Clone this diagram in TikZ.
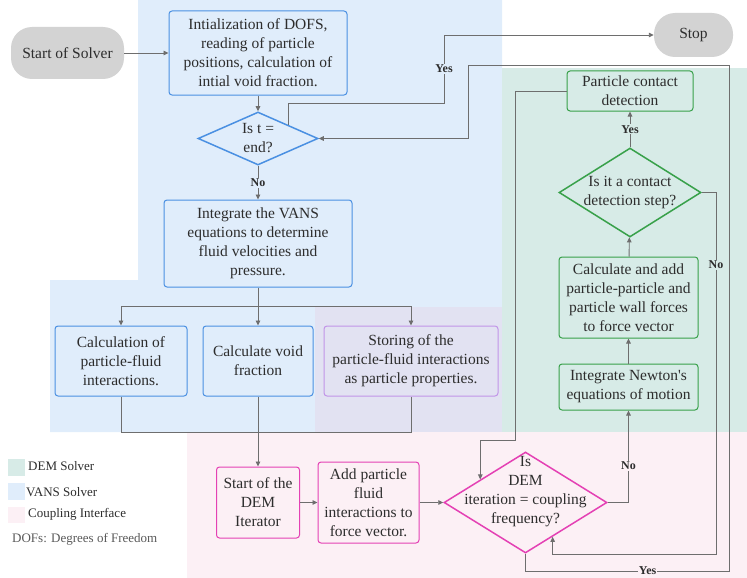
\documentclass[tikz,border=0pt]{standalone}
\usepackage{fontspec}
\setmainfont{Liberation Serif}
\usetikzlibrary{shapes.geometric,arrows.meta,calc}

\definecolor{vansbg}{RGB}{224,237,251}
\definecolor{vansline}{RGB}{74,144,226}
\definecolor{dembg}{RGB}{215,235,231}
\definecolor{demline}{RGB}{56,161,74}
\definecolor{cplbg}{RGB}{252,240,245}
\definecolor{cplline}{RGB}{228,65,180}
\definecolor{storebg}{RGB}{226,226,242}
\definecolor{storeline}{RGB}{193,148,232}
\definecolor{pillg}{RGB}{211,211,211}
\definecolor{lineg}{RGB}{110,110,110}
\definecolor{txt}{RGB}{45,45,45}

\begin{document}
\begin{tikzpicture}[x=1pt,y=-1pt,
    every node/.style={text=txt},
    box/.style={draw=#1, rounded corners=3pt, line width=1pt, align=center, inner sep=0pt,
        font=\fontsize{15.5}{19}\selectfont},
    pill/.style={fill=pillg, rounded corners=21pt, inner sep=0pt, font=\fontsize{15.5}{19}\selectfont},
    decision/.style={diamond, draw=#1, line width=1.5pt, inner sep=0pt},
    dtext/.style={align=center, inner sep=0pt, font=\fontsize{15.5}{19}\selectfont},
    lbl/.style={fill=#1, inner sep=1pt, font=\fontsize{12}{14}\selectfont\bfseries},
    arr/.style={draw=lineg, line width=0.9pt, -{Triangle[length=5pt,width=4.5pt]}},
    ln/.style={draw=lineg, line width=0.9pt},
    legtext/.style={anchor=west, inner sep=0pt, font=\fontsize{13}{15}\selectfont}]
    \useasboundingbox (0,0) rectangle (747,578);

    % Draw the solver regions
    \fill[vansbg] (138,0) -- (502,0) -- (502,432) -- (50,432) -- (50,280) -- (138,280) -- cycle;
    \fill[storebg] (315,307) rectangle (502,432);
    \fill[dembg] (502,68) rectangle (747,432);
    \fill[cplbg] (187,432) rectangle (747,578);

    % Legend
    \fill[dembg] (8,459) rectangle (25,476);
    \fill[vansbg] (8,483) rectangle (25,500);
    \fill[cplbg] (8,507) rectangle (25,523);
    \node[legtext] (legdem) at (28,466) {DEM Solver};
    \node[legtext] (legvans) at (26,492) {VANS Solver};
    \node[legtext] (legcpl) at (28,514) {Coupling Interface};
    \node[legtext, text=black!65] (legdof) at (12,539) {DOFs: Degrees of Freedom};

    % VANS side
    \node[pill, minimum width=113pt, minimum height=52pt] (start) at (67.5,53) {Start of Solver};
    \node[box=vansline, fill=vansbg, minimum width=178pt, minimum height=84pt] (init) at (258,53)
        {Intialization of DOFS,\\ reading of particle\\ positions, calculation of\\ intial void fraction.};
    \node[decision=vansline, fill=vansbg, minimum width=120pt, minimum height=53pt] (tend) at (258,138.5) {};
    \node[dtext] (tend-t) at (tend) {Is t =\\ end?};
    \node[box=vansline, fill=vansbg, minimum width=188pt, minimum height=87pt] (vans) at (258,243.5)
        {Integrate the VANS\\ equations to determine\\ fluid velocities and\\ pressure.};
    \node[box=vansline, fill=vansbg, minimum width=132pt, minimum height=70pt] (pfi) at (121,361)
        {Calculation of\\ particle-fluid\\ interactions.};
    \node[box=vansline, fill=vansbg, minimum width=110pt, minimum height=70pt] (void) at (258,361)
        {Calculate void\\ fraction};
    \node[box=storeline, fill=storebg, minimum width=174pt, minimum height=70pt] (store) at (411,361)
        {Storing of the\\ particle-fluid interactions\\ as particle properties.};
    \node[pill, minimum width=79pt, minimum height=44pt] (stop) at (693.5,35) {Stop};

    % Coupling interface
    \node[box=cplline, fill=cplbg, minimum width=83pt, minimum height=71pt] (demstart) at (258,502.5)
        {Start of the\\ DEM\\ Iterator};
    \node[box=cplline, fill=cplbg, minimum width=101pt, minimum height=81pt] (addf) at (368.5,502.5)
        {Add particle\\ fluid\\ interactions to\\ force vector.};
    \node[decision=cplline, fill=cplbg, minimum width=163pt, minimum height=101pt] (cpl) at (525.5,502.5) {};
    \node[dtext] (cpl-t) at ($(cpl)+(0,-11)$) {Is\\ DEM\\ iteration = coupling\\ frequency?};

    % DEM side
    \node[box=demline, fill=dembg, minimum width=139pt, minimum height=46pt] (newton) at (628.5,387)
        {Integrate Newton\textquotesingle s\\ equations of motion};
    \node[box=demline, fill=dembg, minimum width=139pt, minimum height=81pt] (calcf) at (628.5,297.5)
        {Calculate and add\\ particle-particle and\\ particle wall forces\\ to force vector};
    \node[decision=demline, fill=dembg, minimum width=142pt, minimum height=89pt] (cstep) at (630,192.5) {};
    \node[dtext] (cstep-t) at (cstep) {Is it a contact\\ detection step?};
    \node[box=demline, fill=dembg, minimum width=126pt, minimum height=40pt] (pcd) at (630,91)
        {Particle contact\\ detection};

    % Bend points
    \coordinate (ybend) at (444,103);
    \coordinate (sp) at (258,306);
    \coordinate (mg) at (258,432);
    \coordinate (yret) at (729,571);
    \coordinate (yret2) at (468,65);
    \coordinate (nret) at (716,554);
    \coordinate (pret) at (515,440);
    \coordinate (cplin) at ($(cpl.south)!0.33!(cpl.east)$);
    \coordinate (cplin2) at ($(cpl.west)!0.45!(cpl.north)$);

    % Connectors
    \draw[arr] (start) -- (init);
    \draw[arr] (init) -- (tend);
    \draw[arr] (tend) -- node[lbl=vansbg] (no1) {No} (vans);
    \draw[arr] (tend.north east) |- (ybend) |- node[lbl=vansbg, pos=0.25] (yes1) {Yes} (stop);
    \draw[ln] (vans) -- (sp);
    \draw[arr] (sp) -| (pfi);
    \draw[arr] (sp) -- (void);
    \draw[arr] (sp) -| (store);
    \draw[ln] (pfi) |- (mg);
    \draw[ln] (store) |- (mg);
    \draw[arr] (void) -- (demstart);
    \draw[arr] (demstart) -- (addf);
    \draw[arr] (addf) -- (cpl);
    \draw[arr] (cpl.east) -| node[lbl=cplbg, pos=0.7] (no2) {No} (newton.south);
    \draw[arr] (newton) -- (calcf);
    \draw[arr] (calcf) -- (cstep);
    \draw[arr] (cstep) -- node[lbl=dembg] (yes2) {Yes} (pcd);
    \draw[arr] (cstep.east) -| node[lbl=dembg, pos=0.6] (no3) {No} (nret) -| (cplin);
    \draw[arr] (pcd.west) -| (pret) -| (cplin2);
    \draw[arr] (cpl.south) |- node[lbl=cplbg, pos=0.8] (yes3) {Yes} (yret) |- (yret2) |- (tend.east);

\end{tikzpicture}
\end{document}
